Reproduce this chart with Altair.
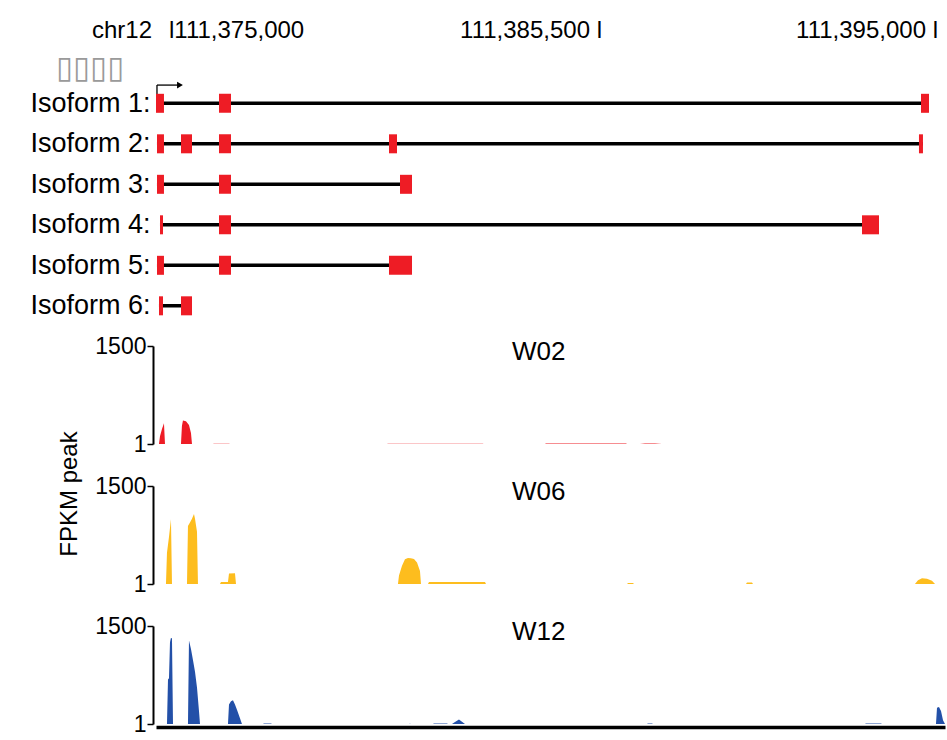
import altair as alt
import pandas as pd

# ---------------- data ----------------
chrom = "chr12"
subtitle = "▯▯▯▯"
header_left_label = ["l111,375,000"]
header_left_pos = [111375000]
header_right_labels = ["111,385,500 l", "111,395,000 l"]
header_right_pos = [111385500, 111395000]

isoform_rows = [1, 1, 1,
                2, 2, 2, 2, 2,
                3, 3, 3,
                4, 4, 4,
                5, 5, 5,
                6, 6]
exon_start = [111374607, 111376156, 111394603,
              111374631, 111375221, 111376156, 111380336, 111394546,
              111374631, 111376156, 111380607,
              111374705, 111376156, 111392935,
              111374631, 111376156, 111380336,
              111374680, 111375221]
exon_end = [111374803, 111376451, 111394829,
            111374803, 111375492, 111376451, 111380533, 111394659,
            111374803, 111376451, 111380902,
            111374779, 111376451, 111393416,
            111374803, 111376451, 111380902,
            111374779, 111375492]

tss_pos = [111374631]
tss_arrow_end = [111375150]
tss_arrow_tip = [111375197]

track_names = ["W02", "W06", "W12"]
track_colors = ["#EE1C25", "#FDBD1E", "#2350A8"]

w02_pos = [111374680, 111374705, 111374754, 111374803, 111374828,
           111375221, 111375245, 111375270, 111375344, 111375418, 111375467, 111375492,
           111376008, 111376033, 111376402, 111376426,
           111380287, 111380311, 111382639, 111382664,
           111384172, 111384196, 111386263, 111386292,
           111386659, 111386800, 111387083, 111387281]
w02_val = [1, 120, 230, 320, 1,
           1, 280, 360, 350, 290, 170, 1,
           1, 6, 6, 1,
           1, 5, 5, 1,
           1, 7, 7, 1,
           1, 9, 8, 1]

w06_pos = [111374852, 111374877, 111374926, 111374975, 111375000,
           111375369, 111375393, 111375442, 111375492, 111375541, 111375566, 111375615, 111375639,
           111376180, 111376205, 111376377, 111376402, 111376549, 111376574,
           111380557, 111380582, 111380656, 111380729, 111380803, 111380877, 111380951,
           111381025, 111381098, 111381123,
           111381295, 111381320, 111382697, 111382721,
           111386292, 111386320, 111386461, 111386489,
           111389656, 111389684, 111389825, 111389854,
           111394433, 111394518, 111394631, 111394773, 111394914, 111395000]
w06_val = [1, 480, 720, 990, 1,
           1, 890, 940, 1000, 1070, 1000, 800, 1,
           1, 30, 30, 160, 165, 1,
           1, 130, 280, 380, 400, 395, 385,
           330, 200, 1,
           1, 30, 30, 1,
           1, 15, 15, 1,
           1, 25, 25, 1,
           1, 60, 90, 80, 50, 1]

w12_pos = [111374877, 111374902, 111374926, 111374951, 111374975, 111375000, 111375025,
           111375393, 111375418, 111375467, 111375516, 111375566, 111375615, 111375664, 111375689,
           111376377, 111376402, 111376451, 111376500, 111376549, 111376598, 111376672, 111376721,
           111377238, 111377262, 111377434, 111377459,
           111380828, 111380852, 111380877,
           111381418, 111381442, 111381762, 111381787,
           111381885, 111381959, 111382057, 111382131, 111382205,
           111386857, 111386885, 111386998, 111387027,
           111393020, 111393048, 111393472, 111393500,
           111395027, 111395056, 111395112, 111395169, 111395226, 111395282]
w12_val = [1, 680, 700, 1250, 1320, 1310, 1,
           1, 1280, 1150, 980, 800, 560, 200, 1,
           1, 300, 350, 365, 300, 220, 90, 1,
           1, 8, 8, 1,
           1, 6, 1,
           1, 8, 8, 1,
           1, 30, 70, 35, 1,
           1, 7, 7, 1,
           1, 9, 9, 1,
           1, 250, 260, 200, 60, 1]

# ---------------- styling ----------------
SANS = "Liberation Sans, Arial, sans-serif"
PLOT_W = 789

x_scale = alt.Scale(domain=[111374607, 111385500, 111395282], range=[0, 443, PLOT_W],
                    nice=False, zero=False, padding=0)

# ---------------- isoform panel ----------------
exon_df = pd.DataFrame({"row": isoform_rows, "start": exon_start, "end": exon_end})

y_iso_scale = alt.Scale(domain=[-1.526, 6.375], reverse=True, nice=False, zero=False, padding=0)
y_iso_axis = alt.Axis(values=[1, 2, 3, 4, 5, 6],
                      labelExpr="'Isoform ' + datum.value + ':'",
                      labelFont=SANS, labelFontSize=27, labelColor="black",
                      labelPadding=6, domain=False, ticks=False, grid=False,
                      title=None)

introns = alt.Chart(exon_df).transform_aggregate(
    s="min(start)", e="max(end)", groupby=["row"]
).mark_rule(color="black", strokeWidth=3.5).encode(
    x=alt.X("s:Q", scale=x_scale, axis=None),
    x2="e:Q",
    y=alt.Y("row:Q", scale=y_iso_scale, axis=y_iso_axis),
)

arrow_df = pd.DataFrame({"tss": tss_pos, "end": tss_arrow_end, "tip": tss_arrow_tip,
                         "row": [1], "top": [0.55]})
arrow_v = alt.Chart(arrow_df).mark_rule(color="black", strokeWidth=1.3).encode(
    x=alt.X("tss:Q", scale=x_scale, axis=None),
    y=alt.Y("row:Q", scale=y_iso_scale, axis=y_iso_axis),
    y2="top:Q")
arrow_h = alt.Chart(arrow_df).mark_rule(color="black", strokeWidth=1.3).encode(
    x=alt.X("tss:Q", scale=x_scale, axis=None), x2="end:Q",
    y=alt.Y("top:Q", scale=y_iso_scale, axis=y_iso_axis))
arrow_head = alt.Chart(arrow_df).mark_point(shape="triangle-right", filled=True, color="black",
                                            size=45, opacity=1).encode(
    x=alt.X("tip:Q", scale=x_scale, axis=None),
    y=alt.Y("top:Q", scale=y_iso_scale, axis=y_iso_axis))

exons = alt.Chart(exon_df).mark_bar(color="#EE1C25", size=19).encode(
    x=alt.X("start:Q", scale=x_scale, axis=None),
    x2="end:Q",
    y=alt.Y("row:Q", scale=y_iso_scale, axis=y_iso_axis),
)

HDR = 24
hdr_left = alt.Chart(pd.DataFrame({"pos": header_left_pos, "label": header_left_label})).mark_text(
    align="left", baseline="alphabetic", font=SANS, fontSize=HDR, color="black", dx=-3
).encode(x=alt.X("pos:Q", scale=x_scale, axis=None), y=alt.value(37), text="label:N")
hdr_right = alt.Chart(pd.DataFrame({"pos": header_right_pos, "label": header_right_labels})).mark_text(
    align="right", baseline="alphabetic", font=SANS, fontSize=HDR, color="black", dx=3
).encode(x=alt.X("pos:Q", scale=x_scale, axis=None), y=alt.value(37), text="label:N")
hdr_chrom = alt.Chart(pd.DataFrame({"t": [chrom]})).mark_text(
    align="right", baseline="alphabetic", font=SANS, fontSize=HDR, color="black"
).encode(x=alt.value(-4), y=alt.value(37), text="t:N")
hdr_sub = alt.Chart(pd.DataFrame({"t": [subtitle]})).mark_text(
    align="left", baseline="alphabetic", font="DejaVu Sans", fontSize=31, color="#9a9a9a"
).encode(x=alt.value(-100), y=alt.value(77), text="t:N")
anchor = alt.Chart(pd.DataFrame({"t": [0]})).mark_rule(color="white", strokeWidth=1).encode(
    x=alt.value(-155), x2=alt.value(-154), y=alt.value(150))

iso_panel = alt.layer(anchor, introns, arrow_v, arrow_h, arrow_head, exons,
                      hdr_chrom, hdr_left, hdr_right, hdr_sub).properties(width=PLOT_W, height=320)

# ---------------- coverage tracks ----------------
def track(pos, val, name, color, bottom_axis, ylabel):
    df = pd.DataFrame({"pos": pos, "val": val})
    y_scale = alt.Scale(domain=[1, 1500], nice=False, zero=False)
    y_axis = alt.Axis(values=[1, 1500], format="d", labelFont=SANS, labelFontSize=23,
                      labelColor="black", labelPadding=1, tickSize=6, tickWidth=1.5,
                      tickColor="black", domainColor="black", domainWidth=2, grid=False,
                      offset=3, title=None)
    if bottom_axis:
        x_axis = alt.Axis(labels=False, ticks=False, grid=False, domainColor="black",
                          domainWidth=3.5, offset=3, title=None)
    else:
        x_axis = None
    area = alt.Chart(df).mark_area(color=color, interpolate="linear", opacity=1).encode(
        x=alt.X("pos:Q", scale=x_scale, axis=x_axis),
        y=alt.Y("val:Q", scale=y_scale, axis=y_axis),
        y2=alt.datum(1),
    )
    label = alt.Chart(pd.DataFrame({"t": [name]})).mark_text(
        align="left", baseline="alphabetic", font=SANS, fontSize=26, color="black"
    ).encode(x=alt.value(356), y=alt.value(14), text="t:N")
    layers = [area, label]
    if ylabel:
        title = alt.Chart(pd.DataFrame({"t": [ylabel]})).mark_text(
            align="center", baseline="middle", font=SANS, fontSize=24, color="black", angle=270
        ).encode(x=alt.value(-86), y=alt.value(8), text="t:N")
        layers.append(title)
    return alt.layer(*layers).properties(width=PLOT_W, height=98)

t1 = track(w02_pos, w02_val, track_names[0], track_colors[0], False, None)
t2 = track(w06_pos, w06_val, track_names[1], track_colors[1], False, "FPKM peak")
t3 = track(w12_pos, w12_val, track_names[2], track_colors[2], True, None)

tracks = alt.vconcat(t1, t2, t3, spacing=42, bounds="flush")

chart = alt.vconcat(iso_panel, tracks, spacing=25, bounds="flush").properties(
    padding=0, background="white"
).configure_view(stroke="transparent")

chart.save("out.html", embed_options={"renderer": "svg", "actions": False})
